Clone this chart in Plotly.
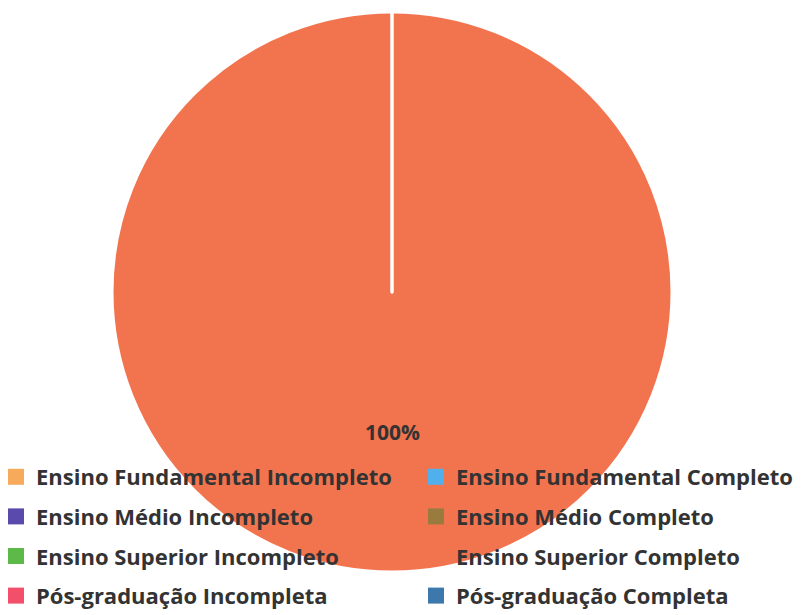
import plotly.graph_objects as go

# ---- Data -------------------------------------------------------------
categories = ["Ensino Fundamental Incompleto", "Ensino Fundamental Completo",
              "Ensino Médio Incompleto", "Ensino Médio Completo",
              "Ensino Superior Incompleto", "Ensino Superior Completo",
              "Pós-graduação Incompleta", "Pós-graduação Completa"]
values = [0, 0, 0, 0, 0, 100, 0, 0]
colors = ["#F7A95C", "#4FB0EC", "#5A4AAE", "#9A7B3E",
          "#5DBA48", "#F2744F", "#F2506A", "#3D78AC"]

# ---- Layout geometry (page body adds an 8px offset) -------------------
W, H = 803, 615
OFF = 8
cx, cy, r = 392 - OFF, 292 - OFF, 280
dom_x = [(cx - r) / W, (cx + r) / W]
dom_y = [(H - cy - r) / H, (H - cy + r) / H]

text_color = "#333333"
legend_font = dict(family="Open Sans", size=22, color=text_color, weight="bold")

fig = go.Figure()
fig.add_trace(go.Pie(
    labels=categories, values=values, sort=False, direction="clockwise",
    rotation=0, marker=dict(colors=colors, line=dict(color="white", width=3)),
    domain=dict(x=dom_x, y=dom_y), textinfo="none", hoverinfo="label+percent",
    showlegend=False,
))

# Legend entries (two columns, as in the original)
for i, (lab, col) in enumerate(zip(categories, colors)):
    fig.add_trace(go.Scatter(
        x=[None], y=[None], mode="markers", name=lab, legendgroup=lab,
        marker=dict(symbol="square", size=16, color=col),
        legend="legend" if i % 2 == 0 else "legend2", showlegend=True,
    ))

# Percentage label of the non-zero slice
total = sum(values)
for lab, v in zip(categories, values):
    if v > 0:
        fig.add_annotation(
            text=f"{v / total * 100:.0f}%", x=cx / W, y=(H - cy - r / 2) / H,
            xref="paper", yref="paper", xanchor="center", yanchor="middle",
            showarrow=False,
            font=dict(family="Open Sans", size=21, color=text_color, weight="bold"),
        )

leg_common = dict(yanchor="top", orientation="v", traceorder="grouped",
                  tracegroupgap=8, font=legend_font, bgcolor="rgba(0,0,0,0)",
                  itemclick=False, itemdoubleclick=False)
fig.update_layout(
    width=W, height=H,
    margin=dict(l=0, r=0, t=0, b=0, autoexpand=False),
    paper_bgcolor="white", plot_bgcolor="white",
    xaxis=dict(visible=False), yaxis=dict(visible=False),
    legend=dict(x=-12 / W, xanchor="left", y=1 - 448 / H, **leg_common),
    legend2=dict(x=408 / W, xanchor="left", y=1 - 448 / H, **leg_common),
)

fig.write_html("out.html")
